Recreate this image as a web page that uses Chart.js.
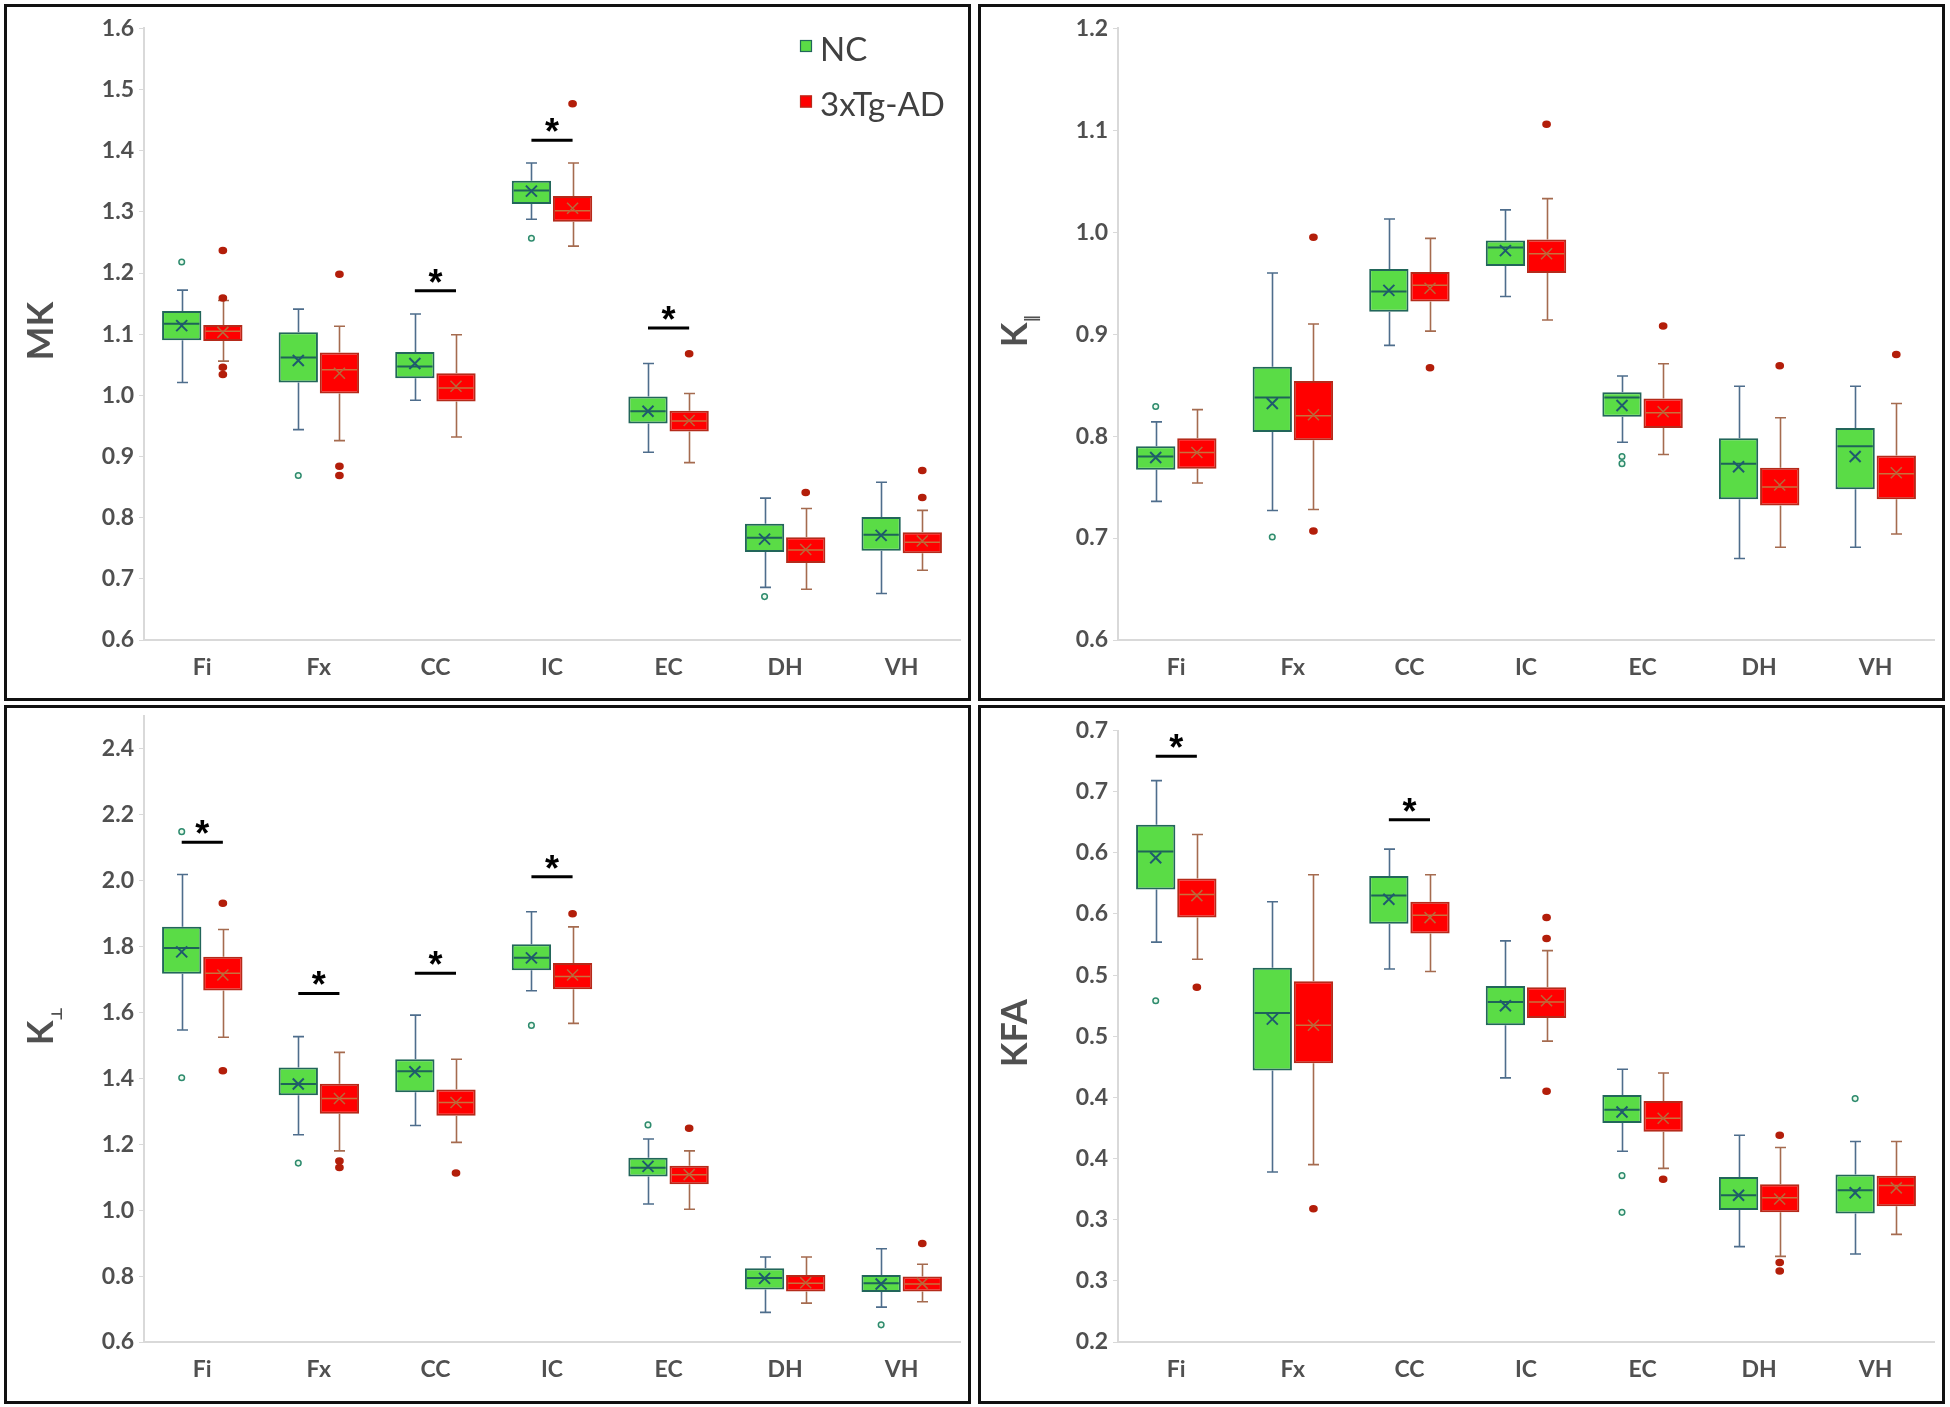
<!DOCTYPE html>
<html><head><meta charset="utf-8">
<script src="https://cdn.jsdelivr.net/npm/chart.js@4/dist/chart.umd.min.js"></script>
<style>
html,body{margin:0;padding:0;background:#fff;}
body{width:1950px;height:1407px;position:relative;overflow:hidden;}
.panel{position:absolute;box-sizing:border-box;border:3px solid #111;background:#fff;}
.panel canvas{display:block;}
</style></head><body>
<div class="panel" style="left:4px;top:4px;width:967px;height:697px"><canvas id="c1" width="961" height="691"></canvas></div>
<div class="panel" style="left:978px;top:4px;width:967px;height:697px"><canvas id="c2" width="961" height="691"></canvas></div>
<div class="panel" style="left:4px;top:705px;width:967px;height:699px"><canvas id="c3" width="961" height="693"></canvas></div>
<div class="panel" style="left:978px;top:705px;width:967px;height:699px"><canvas id="c4" width="961" height="693"></canvas></div>
<script>
const categories = ['Fi','Fx','CC','IC','EC','DH','VH'];
const groups = ['NC','3xTg-AD'];

// each row: [min whisker, Q1, median, Q3, max whisker, mean]
const mkNC = [
 [1.021,1.090,1.117,1.138,1.172,1.114],
 [0.944,1.021,1.062,1.103,1.141,1.057],
 [0.992,1.028,1.047,1.071,1.133,1.052],
 [1.288,1.313,1.335,1.351,1.380,1.334],
 [0.907,0.954,0.974,0.998,1.052,0.974],
 [0.686,0.744,0.767,0.790,0.832,0.765],
 [0.676,0.746,0.772,0.801,0.858,0.771]];
const mkAD = [
 [1.056,1.089,1.105,1.115,1.155,1.103],
 [0.926,1.003,1.042,1.070,1.113,1.036],
 [0.932,0.990,1.012,1.036,1.099,1.015],
 [1.244,1.284,1.302,1.326,1.380,1.306],
 [0.890,0.941,0.958,0.975,1.003,0.959],
 [0.683,0.726,0.747,0.768,0.815,0.748],
 [0.714,0.742,0.760,0.776,0.812,0.762]];
const mkNCOut = [[1.218],[0.869],[],[1.257],[],[0.671],[]];
const mkADOut = [[1.237,1.159,1.046,1.034],[1.198,0.884,0.869],[],[1.477],[1.068],[0.841],[0.877,0.833]];
const mkSig = [[2,1.171],[3,1.417],[4,1.110]];
const mkTicks = [0.6,0.7,0.8,0.9,1.0,1.1,1.2,1.3,1.4,1.5,1.6];
const mkTickLabels = ['0.6','0.7','0.8','0.9','1.0','1.1','1.2','1.3','1.4','1.5','1.6'];

const kparNC = [
 [0.736,0.767,0.780,0.790,0.814,0.779],
 [0.727,0.804,0.838,0.868,0.960,0.832],
 [0.889,0.922,0.942,0.964,1.013,0.943],
 [0.937,0.967,0.985,0.992,1.022,0.982],
 [0.794,0.819,0.838,0.843,0.859,0.830],
 [0.680,0.738,0.773,0.798,0.849,0.770],
 [0.691,0.748,0.790,0.808,0.849,0.780]];
const kparAD = [
 [0.754,0.768,0.784,0.798,0.826,0.784],
 [0.728,0.796,0.820,0.854,0.910,0.821],
 [0.903,0.932,0.948,0.961,0.994,0.945],
 [0.914,0.960,0.979,0.993,1.033,0.979],
 [0.782,0.808,0.823,0.837,0.871,0.824],
 [0.691,0.732,0.750,0.769,0.818,0.752],
 [0.704,0.738,0.763,0.781,0.832,0.764]];
const kparNCOut = [[0.829],[0.701],[],[],[0.780,0.773],[],[]];
const kparADOut = [[],[0.995,0.707],[0.867],[1.106],[0.908],[0.869],[0.880]];
const kparSig = [];
const kparTicks = [0.6,0.7,0.8,0.9,1.0,1.1,1.2];
const kparTickLabels = ['0.6','0.7','0.8','0.9','1.0','1.1','1.2'];

const kperNC = [
 [1.547,1.718,1.796,1.860,2.019,1.784],
 [1.229,1.349,1.383,1.433,1.527,1.383],
 [1.257,1.358,1.422,1.458,1.592,1.420],
 [1.666,1.728,1.766,1.807,1.906,1.766],
 [1.019,1.102,1.129,1.159,1.216,1.133],
 [0.690,0.759,0.794,0.824,0.858,0.793],
 [0.706,0.752,0.778,0.803,0.883,0.776]];
const kperAD = [
 [1.525,1.667,1.719,1.769,1.852,1.714],
 [1.180,1.293,1.339,1.384,1.479,1.339],
 [1.206,1.287,1.327,1.366,1.458,1.327],
 [1.567,1.671,1.709,1.750,1.860,1.714],
 [1.003,1.079,1.108,1.135,1.180,1.108],
 [0.718,0.753,0.778,0.803,0.858,0.780],
 [0.722,0.753,0.776,0.799,0.836,0.778]];
const kperNCOut = [[2.149,1.402],[1.143],[],[1.561],[1.259],[],[0.652]];
const kperADOut = [[1.932,1.423],[1.149,1.130],[1.113],[1.900],[1.249],[],[0.899]];
const kperSig = [[0,2.117],[1,1.658],[2,1.719],[3,2.012]];
const kperTicks = [0.6,0.8,1.0,1.2,1.4,1.6,1.8,2.0,2.2,2.4];
const kperTickLabels = ['0.6','0.8','1.0','1.2','1.4','1.6','1.8','2.0','2.2','2.4'];

const kfaNC = [
 [0.527,0.570,0.601,0.623,0.659,0.596],
 [0.339,0.422,0.469,0.506,0.560,0.464],
 [0.505,0.542,0.565,0.581,0.603,0.562],
 [0.416,0.459,0.478,0.491,0.528,0.475],
 [0.356,0.379,0.390,0.402,0.423,0.388],
 [0.278,0.308,0.320,0.335,0.369,0.320],
 [0.272,0.305,0.324,0.337,0.364,0.322]];
const kfaAD = [
 [0.513,0.547,0.566,0.579,0.615,0.565],
 [0.345,0.428,0.459,0.495,0.582,0.459],
 [0.503,0.534,0.549,0.560,0.582,0.547],
 [0.446,0.465,0.478,0.490,0.520,0.479],
 [0.342,0.372,0.383,0.397,0.420,0.383],
 [0.270,0.306,0.318,0.329,0.359,0.317],
 [0.288,0.311,0.328,0.336,0.364,0.326]];
const kfaNCOut = [[0.479],[],[],[],[0.336,0.306],[],[0.399]];
const kfaADOut = [[0.490],[0.309],[],[0.547,0.530,0.405],[0.333],[0.369,0.265,0.258],[]];
const kfaSig = [[0,0.679],[2,0.627]];
const kfaTicks = [0.2,0.25,0.3,0.35,0.4,0.45,0.5,0.55,0.6,0.65,0.7];
const kfaTickLabels = ['0.2','0.3','0.3','0.4','0.4','0.5','0.5','0.6','0.6','0.7','0.7'];

const NC_STYLE = {fill:'#5ADC46', border:'#22665A', whisker:'#4E6D8C', median:'#1E6458', mean:'#1F5A6E', outStroke:'#2E8B6E', outFill:'#EEFBEE', filled:false, mw:2};
const AD_STYLE = {fill:'#FF0000', border:'#B52A1A', whisker:'#A56B4F', median:'#C9703C', mean:'#B8683A', outStroke:'#B31E0A', outFill:'#B31E0A', filled:true, mw:1.5};
const TEXT_GRAY = '#505050';
const AXIS_GRAY = '#D9D9D9';

const panels = [
 {id:'c1', title:'MK', sub:'', nc:mkNC, ad:mkAD, ncOut:mkNCOut, adOut:mkADOut, sig:mkSig, ticks:mkTicks, labels:mkTickLabels, min:0.6, max:1.6, top:21.4, bottom:633, legend:true},
 {id:'c2', title:'K', sub:'\u2016', nc:kparNC, ad:kparAD, ncOut:kparNCOut, adOut:kparADOut, sig:kparSig, ticks:kparTicks, labels:kparTickLabels, min:0.6, max:1.2, top:21.4, bottom:633, legend:false},
 {id:'c3', title:'K', sub:'\u22A5', nc:kperNC, ad:kperAD, ncOut:kperNCOut, adOut:kperADOut, sig:kperSig, ticks:kperTicks, labels:kperTickLabels, min:0.6, max:2.5, top:8, bottom:634, legend:false},
 {id:'c4', title:'KFA', sub:'', nc:kfaNC, ad:kfaAD, ncOut:kfaNCOut, adOut:kfaADOut, sig:kfaSig, ticks:kfaTicks, labels:kfaTickLabels, min:0.2, max:0.7, top:22.5, bottom:634, legend:false}
];

function makeChart(p){
  const canvas = document.getElementById(p.id);
  const H = canvas.height;
  const extras = {
    id:'boxExtras',
    afterDatasetsDraw(chart){
      const ctx = chart.ctx, ys = chart.scales.y;
      const P = v => ys.getPixelForValue(v);
      ctx.save();
      chart.data.datasets.forEach((ds, di) => {
        const meta = chart.getDatasetMeta(di), st = ds.boxStyle;
        meta.data.forEach((bar, i) => {
          const s = ds.stats[i], cx = Math.round(bar.x) + 0.5, hw = bar.width / 2;
          ctx.strokeStyle = st.whisker; ctx.lineWidth = 1.6;
          ctx.beginPath();
          ctx.moveTo(cx, P(s[3])); ctx.lineTo(cx, P(s[4]));
          ctx.moveTo(cx - 5.5, P(s[4])); ctx.lineTo(cx + 5.5, P(s[4]));
          ctx.moveTo(cx, P(s[1])); ctx.lineTo(cx, P(s[0]));
          ctx.moveTo(cx - 5.5, P(s[0])); ctx.lineTo(cx + 5.5, P(s[0]));
          ctx.stroke();
          ctx.strokeStyle = st.median; ctx.lineWidth = st.mw;
          ctx.beginPath(); ctx.moveTo(bar.x - hw + 2, P(s[2])); ctx.lineTo(bar.x + hw - 2, P(s[2])); ctx.stroke();
          const my = P(s[5]), r = 5.5;
          ctx.strokeStyle = st.mean; ctx.lineWidth = st.mw;
          ctx.beginPath();
          ctx.moveTo(bar.x - r, my - r); ctx.lineTo(bar.x + r, my + r);
          ctx.moveTo(bar.x + r, my - r); ctx.lineTo(bar.x - r, my + r);
          ctx.stroke();
          ds.outliers[i].forEach(v => {
            ctx.beginPath();
            if (st.filled) ctx.ellipse(bar.x, P(v), 3.6, 3.0, 0, 0, Math.PI * 2);
            else ctx.arc(bar.x, P(v), 2.8, 0, Math.PI * 2);
            ctx.fillStyle = st.outFill; ctx.fill();
            ctx.lineWidth = 1.5; ctx.strokeStyle = st.outStroke; ctx.stroke();
          });
        });
      });
      // significance markers
      const m0 = chart.getDatasetMeta(0), m1 = chart.getDatasetMeta(1);
      p.sig.forEach(([ci, val]) => {
        const x0 = m0.data[ci].x, x1 = m1.data[ci].x, yy = P(val);
        ctx.strokeStyle = '#000'; ctx.lineWidth = 3;
        ctx.beginPath(); ctx.moveTo(x0, yy); ctx.lineTo(x1, yy); ctx.stroke();
        ctx.font = 'bold 36px "Liberation Sans", Arial, sans-serif';
        ctx.fillStyle = '#000'; ctx.textAlign = 'center'; ctx.textBaseline = 'alphabetic';
        const mt = ctx.measureText('*');
        const cy = yy - 15;
        ctx.fillText('*', (x0 + x1) / 2, cy + (mt.actualBoundingBoxAscent - mt.actualBoundingBoxDescent) / 2);
      });
      ctx.restore();
    },
    afterDraw(chart){
      const ctx = chart.ctx, ca = chart.chartArea;
      ctx.save();
      // axis title (rotated)
      ctx.translate(46, (ca.top + ca.bottom) / 2 - 3);
      ctx.rotate(-Math.PI / 2);
      ctx.fillStyle = TEXT_GRAY; ctx.textBaseline = 'alphabetic';
      ctx.font = 'bold 36px Lato, "Liberation Sans", sans-serif';
      if (!p.sub) {
        ctx.textAlign = 'center';
        ctx.fillText(p.title, 0, 0);
      } else {
        ctx.textAlign = 'left';
        const wMain = ctx.measureText(p.title).width;
        ctx.font = 'bold 15px "DejaVu Sans", sans-serif';
        const wSub = ctx.measureText(p.sub).width;
        const start = -(wMain + wSub) / 2;
        ctx.font = 'bold 36px Lato, "Liberation Sans", sans-serif';
        ctx.fillText(p.title, start, 0);
        ctx.font = 'bold 15px "DejaVu Sans", sans-serif';
        ctx.fillText(p.sub, start + wMain, 9);
      }
      ctx.restore();
      if (p.legend) {
        ctx.save();
        const items = [[NC_STYLE, groups[0], 33, 54], [AD_STYLE, groups[1], 88.5, 109]];
        items.forEach(([st, txt, sy, by]) => {
          ctx.fillStyle = st.fill; ctx.fillRect(793, sy, 12, 12);
          ctx.strokeStyle = st.border; ctx.lineWidth = 1.2; ctx.strokeRect(793.5, sy + 0.5, 11, 11);
          ctx.fillStyle = '#404040'; ctx.font = '33px Lato, "Liberation Sans", sans-serif';
          ctx.textAlign = 'left'; ctx.textBaseline = 'alphabetic';
          ctx.fillText(txt, 813, by);
        });
        ctx.restore();
      }
    }
  };
  const mkDs = (label, rows, outs, st) => ({
    label, data: rows.map(r => [r[1], r[3]]), stats: rows, outliers: outs, boxStyle: st,
    backgroundColor: st.fill, borderColor: st.border, borderWidth: 2, borderSkipped: false,
    categoryPercentage: 0.706, barPercentage: 0.955
  });
  const tickFont = {family: 'Lato, "Liberation Sans", sans-serif', weight: 'bold', size: 23};
  return new Chart(canvas, {
    type: 'bar',
    data: {labels: categories, datasets: [mkDs(groups[0], p.nc, p.ncOut, NC_STYLE), mkDs(groups[1], p.ad, p.adOut, AD_STYLE)]},
    options: {
      responsive: false, animation: false, devicePixelRatio: 1,
      layout: {padding: {left: 0, right: 8, top: p.top, bottom: 0}},
      plugins: {legend: {display: false}, tooltip: {enabled: false}},
      scales: {
        x: {
          grid: {display: true, drawOnChartArea: false, drawTicks: false, color: AXIS_GRAY},
          border: {display: true, color: AXIS_GRAY, width: 2},
          ticks: {font: tickFont, color: TEXT_GRAY, padding: 14, maxRotation: 0, autoSkip: false},
          afterFit(s){ s.height = H - p.bottom; s.paddingLeft = 0; s.paddingRight = 0; }
        },
        y: {
          min: p.min, max: p.max,
          grid: {display: true, drawOnChartArea: false, drawTicks: true, tickLength: 5, color: AXIS_GRAY},
          border: {display: true, color: AXIS_GRAY, width: 2},
          ticks: {font: tickFont, color: TEXT_GRAY, padding: 5, autoSkip: false, callback: (v, i) => p.labels[i]},
          afterBuildTicks(s){ s.ticks = p.ticks.map(v => ({value: v})); },
          afterFit(s){ s.width = 137; s.paddingTop = 0; s.paddingBottom = 0; }
        }
      }
    },
    plugins: [extras]
  });
}
panels.forEach(makeChart);
</script>
</body></html>
